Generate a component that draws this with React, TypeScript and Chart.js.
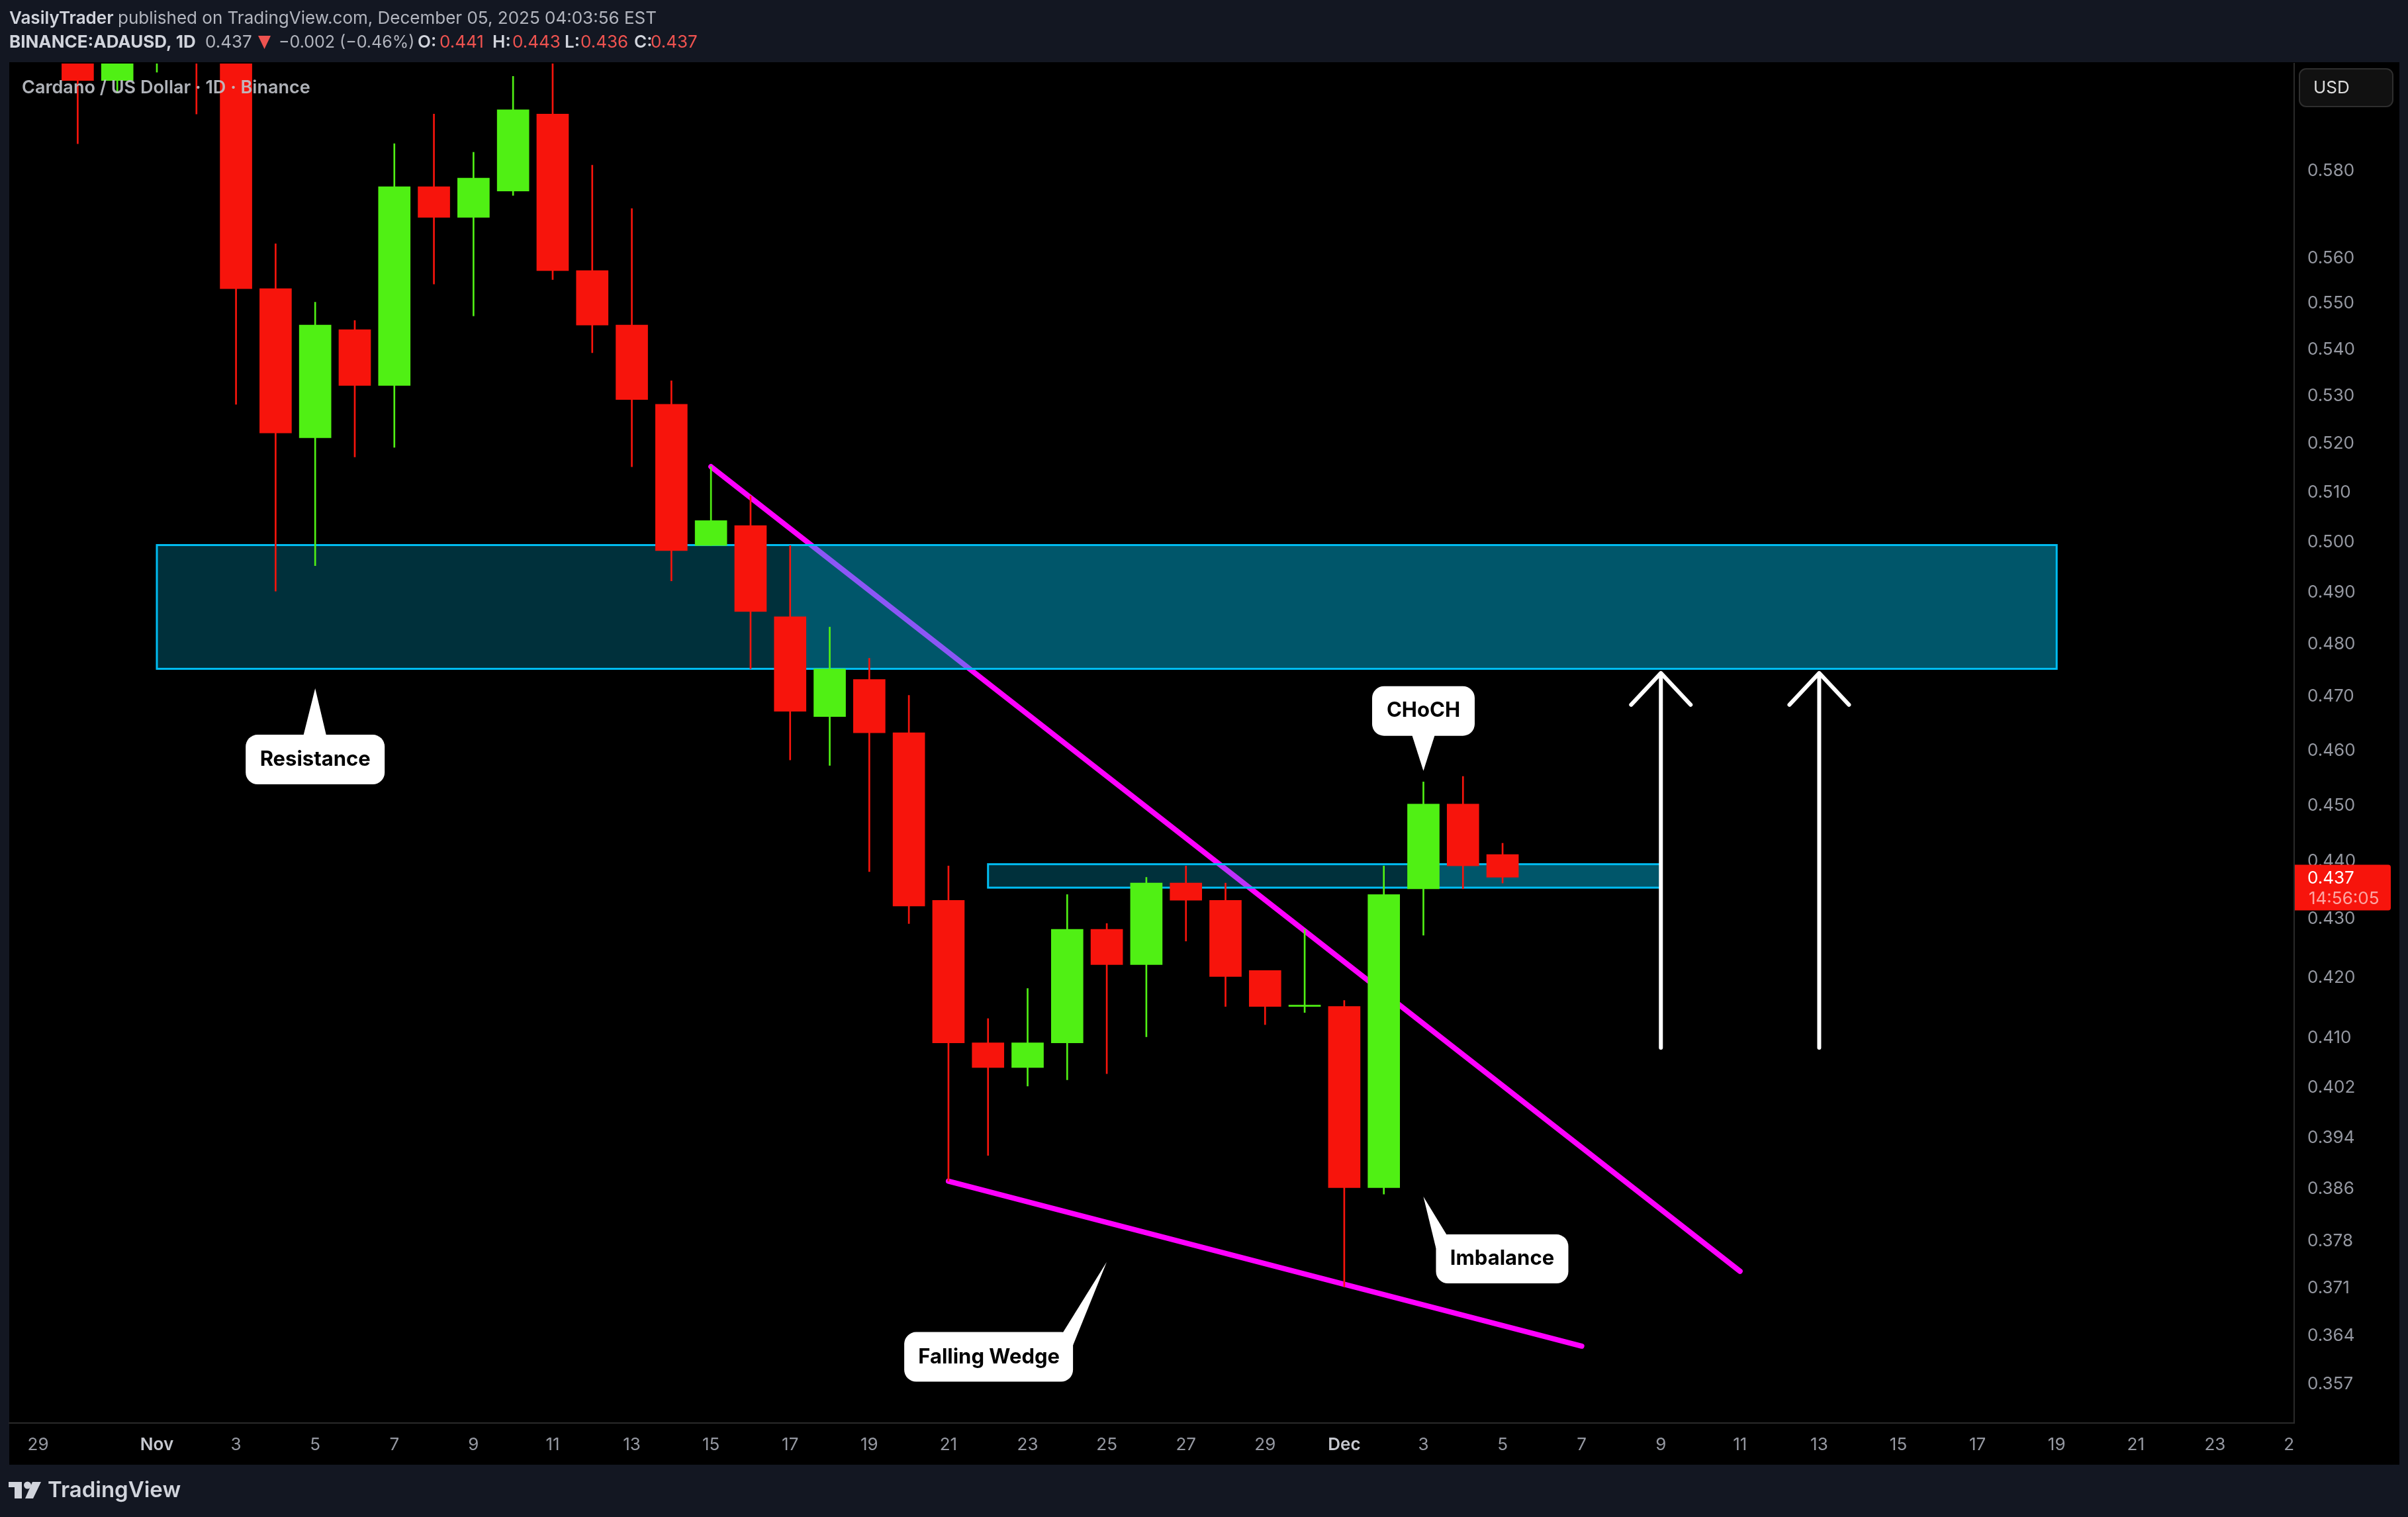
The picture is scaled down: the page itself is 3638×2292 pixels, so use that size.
import React, { useEffect, useRef } from "react";
import { Chart, registerables } from "chart.js";

Chart.register(...registerables);

// Day index counted from Nov 1 (Oct 30 = -2 ... Dec 5 = 34)
const days = [-2,-1,0,1,2,3,4,5,6,7,8,9,10,11,12,13,14,15,16,17,18,19,20,21,22,23,24,25,26,27,28,29,30,31,32,33,34];
const opens = [.615,.601,.612,.618,.610,.553,.521,.544,.532,.576,.569,.575,.593,.557,.545,.528,.499,.503,.485,.466,.473,.463,.433,.409,.405,.409,.428,.422,.436,.433,.421,.415,.415,.386,.435,.450,.441];
const highs = [.620,.622,.628,.630,.615,.563,.550,.546,.586,.593,.584,.602,.612,.581,.571,.533,.515,.509,.499,.483,.477,.470,.439,.413,.418,.434,.429,.437,.439,.436,.421,.428,.416,.439,.454,.455,.443];
const lows = [.586,.598,.603,.593,.528,.490,.495,.517,.519,.554,.547,.574,.555,.539,.515,.492,.499,.475,.458,.457,.438,.429,.387,.391,.402,.403,.404,.410,.426,.415,.412,.414,.371,.385,.427,.435,.436];
const closes = [.601,.612,.618,.610,.553,.522,.545,.532,.576,.569,.578,.594,.557,.545,.529,.498,.504,.486,.467,.475,.463,.432,.409,.405,.409,.428,.422,.436,.433,.420,.415,.415,.386,.434,.450,.439,.437];

const priceTicks = [.58,.56,.55,.54,.53,.52,.51,.5,.49,.48,.47,.46,.45,.44,.43,.42,.41,.402,.394,.386,.378,.371,.364,.357];
const dateTickDays = [-3,0,2,4,6,8,10,12,14,16,18,20,22,24,26,28,30,32,34,36,38,40,42,44,46,48,50,52,54];
const dateTickLabels = ["29","Nov","3","5","7","9","11","13","15","17","19","21","23","25","27","29","Dec","3","5","7","9","11","13","15","17","19","21","23","25"];
const monthLabels = ["Nov", "Dec"];

const upperTrend = [{ x: 14, y: .515 }, { x: 40, y: .3733 }];
const lowerTrend = [{ x: 20, y: .387 }, { x: 36, y: .3623 }];

const bigZone = { from: 0, split: 16, to: 48, top: .4991, bottom: .475 };
const smallZone = { from: 21, split: 32, to: 38, top: .4393, bottom: .4352 };
const arrowDays = [38, 42];
const arrowFrom = .4082;
const arrowTo = .4742;

const lastPrice = .437;
const countdown = "14:56:05";

const RED = "#f7140c";
const GREEN = "#50f014";
const PANEL = "#131722";
const FONT = "Inter, 'Liberation Sans', sans-serif";

const callouts = [
  { text: "Resistance", day: 4, price: .4713, box: [-105, 70, 105, 145], tri: [[-18, 72], [17, 72]], center: [0, 108] },
  { text: "CHoCH", day: 32, price: .456, box: [-77.5, -128, 77.5, -53], tri: [[-17.5, -55], [17.5, -55]], center: [0, -91] },
  { text: "Imbalance", day: 32, price: .3846, box: [19, 57, 219, 131], tri: [[36, 59], [19, 78]], center: [119, 94] },
  { text: "Falling Wedge", day: 24, price: .3747, box: [-306, 106, -51, 181], tri: [[-67, 108], [-51, 126]], center: [-178, 144] },
];

function drawZones(chart: any) {
  const { ctx, scales } = chart;
  const x = scales.x, y = scales.y;
  for (const z of [bigZone, smallZone]) {
    const l = x.getPixelForValue(z.from), s = x.getPixelForValue(z.split), r = x.getPixelForValue(z.to);
    const t = y.getPixelForValue(z.top), b = y.getPixelForValue(z.bottom);
    ctx.fillStyle = "rgba(0,190,235,0.25)";
    ctx.fillRect(l, t, s - l, b - t);
    ctx.fillStyle = "rgba(0,190,235,0.45)";
    ctx.fillRect(s, t, r - s, b - t);
    ctx.strokeStyle = "#00bdf2";
    ctx.lineWidth = 3;
    ctx.strokeRect(l, t, r - l, b - t);
  }
}

function text(ctx: any, s: string, x: number, y: number, font: string, color: string) {
  ctx.font = font;
  ctx.fillStyle = color;
  ctx.fillText(s, x, y);
}

const pagePlugin = {
  id: "page",
  beforeDraw(chart: any) {
    const { ctx, width, height } = chart;
    ctx.save();
    ctx.fillStyle = PANEL;
    ctx.fillRect(0, 0, width, height);
    ctx.fillStyle = "#000000";
    ctx.fillRect(14, 94, 3611, 2119);
    ctx.restore();
  },
  beforeDatasetDraw(chart: any, args: any) {
    if (args.index === 2) {
      const { ctx } = chart;
      ctx.save();
      drawZones(chart);
      ctx.restore();
    }
  },
  afterDraw(chart: any) {
    const { ctx, scales } = chart;
    const x = scales.x, y = scales.y;
    ctx.save();
    ctx.textBaseline = "middle";
    ctx.textAlign = "left";

    // Symbol watermark
    text(ctx, "Cardano / US Dollar · 1D · Binance", 33, 133, `600 27px ${FONT}`, "rgba(190,193,200,0.92)");

    // Arrows
    ctx.strokeStyle = "#ffffff";
    ctx.lineWidth = 6;
    ctx.lineCap = "round";
    ctx.lineJoin = "round";
    for (const d of arrowDays) {
      const ax = x.getPixelForValue(d);
      const t = y.getPixelForValue(arrowTo), b = y.getPixelForValue(arrowFrom);
      ctx.beginPath();
      ctx.moveTo(ax, b);
      ctx.lineTo(ax, t);
      ctx.moveTo(ax - 45, t + 48);
      ctx.lineTo(ax, t);
      ctx.lineTo(ax + 45, t + 48);
      ctx.stroke();
    }

    // Callouts
    for (const c of callouts) {
      const tx = x.getPixelForValue(c.day), ty = y.getPixelForValue(c.price);
      ctx.fillStyle = "#ffffff";
      ctx.beginPath();
      ctx.roundRect(tx + c.box[0], ty + c.box[1], c.box[2] - c.box[0], c.box[3] - c.box[1], 18);
      ctx.fill();
      ctx.beginPath();
      ctx.moveTo(tx, ty);
      ctx.lineTo(tx + c.tri[0][0], ty + c.tri[0][1]);
      ctx.lineTo(tx + c.tri[1][0], ty + c.tri[1][1]);
      ctx.closePath();
      ctx.fill();
      ctx.textAlign = "center";
      text(ctx, c.text, tx + c.center[0], ty + c.center[1], `700 31px ${FONT}`, "#000000");
    }
    ctx.textAlign = "left";

    // Header
    const grey = "#b2b5be", bright = "#d1d4dc", loss = "#ef5350";
    text(ctx, "VasilyTrader", 14, 28, `600 26px ${FONT}`, bright);
    text(ctx, "published on TradingView.com, December 05, 2025 04:03:56 EST", 178, 28, `400 26px ${FONT}`, grey);
    text(ctx, "BINANCE:ADAUSD, 1D", 14, 64, `700 26px ${FONT}`, bright);
    text(ctx, "0.437", 310, 64, `400 26px ${FONT}`, grey);
    ctx.fillStyle = loss;
    ctx.beginPath();
    ctx.moveTo(390, 54);
    ctx.lineTo(409, 54);
    ctx.lineTo(399.5, 74);
    ctx.closePath();
    ctx.fill();
    text(ctx, "−0.002 (−0.46%)", 421, 64, `400 25px ${FONT}`, grey);
    const ohlc: [string, string, number, number][] = [["O:", "0.441", 631, 664], ["H:", "0.443", 744, 774], ["L:", "0.436", 853, 877], ["C:", "0.437", 958, 983]];
    for (const [k, v, kx, vx] of ohlc) {
      text(ctx, k, kx, 64, `600 26px ${FONT}`, bright);
      text(ctx, v, vx, 64, `400 26px ${FONT}`, loss);
    }

    // Currency box
    ctx.fillStyle = "#111111";
    ctx.strokeStyle = "#2e2e2e";
    ctx.lineWidth = 2;
    ctx.beginPath();
    ctx.roundRect(3474, 104, 141, 57, 10);
    ctx.fill();
    ctx.stroke();
    text(ctx, "USD", 3495, 133, `400 26px ${FONT}`, "#dddddd");

    // Last price tag
    const py = y.getPixelForValue(lastPrice);
    ctx.fillStyle = RED;
    ctx.beginPath();
    ctx.roundRect(3467, py - 19, 145, 69, [0, 4, 4, 0]);
    ctx.fill();
    text(ctx, lastPrice.toFixed(3), 3486, py + 2, `400 26px ${FONT}`, "#ffffff");
    text(ctx, countdown, 3488, py + 33, `400 26px ${FONT}`, "rgba(255,255,255,0.62)");

    // Footer logo
    ctx.fillStyle = "#d1d4dc";
    ctx.fillRect(13, 2239, 20, 8);
    ctx.fillRect(22, 2239, 11, 25);
    ctx.beginPath();
    ctx.arc(41.5, 2244, 5.5, 0, Math.PI * 2);
    ctx.fill();
    ctx.beginPath();
    ctx.moveTo(49, 2239);
    ctx.lineTo(62, 2239);
    ctx.lineTo(50, 2264);
    ctx.lineTo(38, 2264);
    ctx.closePath();
    ctx.fill();
    text(ctx, "TradingView", 72, 2252, `600 33px ${FONT}`, "#d1d4dc");
    ctx.restore();
  },
};

export default function App() {
  const ref = useRef<HTMLCanvasElement>(null);
  useEffect(() => {
    if (!ref.current) return;
    document.body.style.margin = "0";
    const chart = new Chart(ref.current, {
      type: "bar",
      data: {
        datasets: [
          { type: "line", data: upperTrend, borderColor: "#ff00ff", borderWidth: 8, pointRadius: 0, borderCapStyle: "round", tension: 0, order: 4 },
          { type: "line", data: lowerTrend, borderColor: "#ff00ff", borderWidth: 8, pointRadius: 0, borderCapStyle: "round", tension: 0, order: 3 },
          {
            type: "bar",
            data: days.map((d, i) => ({ x: d, y: [lows[i], highs[i]] })),
            backgroundColor: closes.map((c, i) => (c >= opens[i] ? GREEN : RED)),
            barThickness: 2,
            grouped: false,
            order: 2,
          },
          {
            type: "bar",
            data: days.map((d, i) => ({ x: d, y: [opens[i], closes[i]] })),
            backgroundColor: closes.map((c, i) => (c >= opens[i] ? GREEN : RED)),
            barThickness: 48,
            minBarLength: 2,
            grouped: false,
            order: 1,
          },
        ],
      } as any,
      options: {
        responsive: false,
        animation: false,
        devicePixelRatio: 1,
        layout: { padding: { left: 14, top: 96, right: 13, bottom: 79 } },
        plugins: { legend: { display: false }, tooltip: { enabled: false }, title: { display: false } },
        scales: {
          x: {
            type: "linear",
            offset: false,
            bounds: "data",
            min: (14 - 237) / 59.8,
            max: 54,
            grid: { display: false, drawTicks: false },
            border: { display: true, color: "#2a2a2a", width: 2 },
            afterBuildTicks(scale: any) {
              scale.ticks = dateTickDays.map((value) => ({ value }));
            },
            afterFit(scale: any) {
              scale.height = 63;
            },
            afterUpdate(scale: any) {
              if (scale.__clipped) return;
              scale.__clipped = true;
              const orig = scale.drawLabels;
              scale.drawLabels = function (area: any) {
                const c = scale.ctx;
                c.save();
                c.beginPath();
                c.rect(0, 2150, 3466, 70);
                c.clip();
                orig.call(scale, area);
                c.restore();
              };
            },
            ticks: {
              autoSkip: false,
              maxRotation: 0,
              padding: 18,
              color: (c: any) => (monthLabels.includes(dateTickLabels[c.index]) ? "#c6c8cf" : "#9598a1"),
              font: (c: any) => ({ family: FONT, size: 26, weight: monthLabels.includes(dateTickLabels[c.index]) ? "600" : "400" }),
              callback: (_v: any, i: number) => dateTickLabels[i],
            },
          },
          y: {
            type: "logarithmic",
            position: "right",
            bounds: "data",
            min: 0.58 * Math.exp(-1894 / 3778),
            max: 0.58 * Math.exp(160 / 3778),
            grid: { display: false, drawTicks: false },
            border: { display: true, color: "#2a2a2a", width: 2 },
            afterBuildTicks(scale: any) {
              scale.ticks = priceTicks.map((value) => ({ value }));
            },
            afterFit(scale: any) {
              scale.width = 159;
            },
            ticks: {
              autoSkip: false,
              crossAlign: "near",
              padding: 20,
              labelOffset: 2,
              color: "#9598a1",
              font: { family: FONT, size: 26 },
              callback: (v: any) => Number(v).toFixed(3),
            },
          },
        },
      } as any,
      plugins: [pagePlugin],
    });
    return () => chart.destroy();
  }, []);
  return <canvas ref={ref} width={3638} height={2292} style={{ display: "block", width: 3638, height: 2292 }} />;
}
